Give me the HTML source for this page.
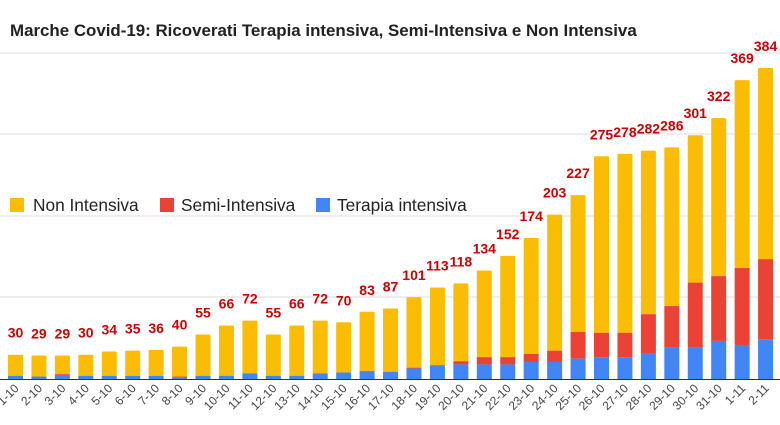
<!DOCTYPE html>
<html><head><meta charset="utf-8"><style>
body{margin:0;background:#fff;width:780px;height:425px;overflow:hidden}
svg{display:block;font-family:"Liberation Sans",Arial,sans-serif}
</style></head><body>
<svg id="c" width="780" height="425" xmlns="http://www.w3.org/2000/svg">
<text x="10" y="36" font-size="16.9" font-weight="bold" fill="#222">Marche Covid-19: Ricoverati Terapia intensiva, Semi-Intensiva e Non Intensiva</text>
<line x1="0" x2="780" y1="53" y2="53" stroke="#ddd"/>
<line x1="0" x2="780" y1="134" y2="134" stroke="#ddd"/>
<line x1="0" x2="780" y1="216" y2="216" stroke="#ddd"/>
<line x1="0" x2="780" y1="297" y2="297" stroke="#ddd"/>
<g id="bars"></g>
<line x1="0" x2="780" y1="379.5" y2="379.5" stroke="#333"/>
</svg>
<script>
var tot=[30,29,29,30,34,35,36,40,55,66,72,55,66,72,70,83,87,101,113,118,134,152,174,203,227,275,278,282,286,301,322,369,384];
var blue=[4,3,5,4,4,4,4,2,4,4,7,4,4,7,8,9,9,13,16,18,18,18,21,21,25,27,27,31,39,39,47,42,49];
var red=[0,0,1,0,0,0,0,1,0,0,0,0,0,0,0,1,0,1,1,4,9,9,10,14,33,30,30,49,51,80,80,95,99];
var lab=[];for(var i=1;i<=31;i++)lab.push(i+"-10");lab.push("1-11","2-11");
var s=0.81,B=379,h="";
for(var i=0;i<33;i++){
 var x=8+i*23.44,cx=x+7.5;
 var yt=B-tot[i]*s,yr=B-(blue[i]+red[i])*s,yb=B-blue[i]*s;
 h+='<rect x="'+x+'" y="'+yt+'" width="15" height="'+(yr-yt)+'" fill="#fbbc04" rx="1"/>';
 h+='<rect x="'+x+'" y="'+yr+'" width="15" height="'+(yb-yr)+'" fill="#ea4335"/>';
 h+='<rect x="'+x+'" y="'+yb+'" width="15" height="'+(B-yb)+'" fill="#4285f4"/>';
 h+='<text x="'+cx+'" y="'+(yt-17)+'" font-size="14" font-weight="bold" fill="#cc0000" text-anchor="middle">'+tot[i]+'</text>';
 h+='<text transform="translate('+(cx+4)+',389) rotate(-45)" font-size="12" fill="#444" text-anchor="end">'+lab[i]+'</text>';
}
h+='<rect x="10" y="198" width="14" height="14" fill="#fbbc04"/><text x="33" y="211" font-size="17.3" fill="#222">Non Intensiva</text>';
h+='<rect x="160" y="198" width="14" height="14" fill="#ea4335"/><text x="181" y="211" font-size="17.3" fill="#222">Semi-Intensiva</text>';
h+='<rect x="316" y="198" width="14" height="14" fill="#4285f4"/><text x="337" y="211" font-size="17.3" fill="#222">Terapia intensiva</text>';
document.getElementById("bars").innerHTML=h;
</script>
</body></html>
